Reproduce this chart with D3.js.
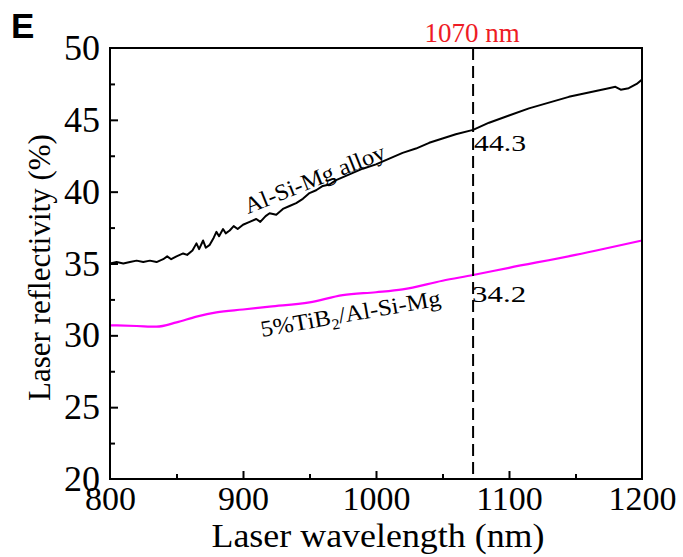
<!DOCTYPE html>
<html><head><meta charset="utf-8">
<script src="https://cdn.jsdelivr.net/npm/d3@7"></script>
<style>body{margin:0;background:#fff}svg{display:block}</style>
</head><body>
<script>
// Data
const alloyWavelength = [800,805,810,815,820,825,830,835,840,843,846,850,855,858,862,865,867,870,872,875,878,880,882,885,887,890,893,896,900,905,910,913,917,920,925,930,935,940,945,950,955,960,965,970,980,990,1000,1010,1020,1030,1040,1050,1060,1073,1085,1100,1115,1130,1145,1160,1175,1180,1184,1190,1196,1200];
const alloyReflectivity = [35.0,35.1,35.0,35.1,35.2,35.1,35.2,35.1,35.3,35.5,35.3,35.5,35.7,35.6,35.9,36.4,36.0,36.6,36.1,36.3,36.8,37.2,36.9,37.4,37.1,37.3,37.6,37.4,37.7,37.9,38.1,37.9,38.3,38.5,38.4,38.8,39.0,39.2,39.5,39.9,40.1,40.4,40.5,40.8,41.2,41.6,41.9,42.3,42.7,43.0,43.4,43.7,44.0,44.3,44.8,45.3,45.8,46.2,46.6,46.9,47.2,47.3,47.1,47.2,47.5,47.8];
const compWavelength = [800,820,835,850,865,880,900,920,950,975,1000,1020,1050,1073,1100,1150,1200];
const compReflectivity = [30.7,30.65,30.6,30.9,31.3,31.6,31.8,32.0,32.3,32.8,33.0,33.2,33.8,34.2,34.7,35.6,36.6];
const xTicks = [800,900,1000,1100,1200];
const xMinor = [850,950,1050,1150];
const yTicks = [20,25,30,35,40,45,50];
const yMinor = [22.5,27.5,32.5,37.5,42.5,47.5];
const markerWavelength = 1073;
const markerLabel = "1070 nm";
const alloyAt = "44.3", compAt = "34.2";

const W = 683, H = 557;
const m = {left:110, right:683-642, top:48, bottom:557-479};
const svg = d3.select("body").append("svg").attr("width",W).attr("height",H);
const x = d3.scaleLinear().domain([800,1200]).range([m.left, W-m.right]);
const y = d3.scaleLinear().domain([20,50]).range([H-m.bottom, m.top]);
const serif = "'Liberation Serif','Times New Roman',serif";

// curves
svg.append("path").datum(d3.zip(compWavelength, compReflectivity))
  .attr("d", d3.line().x(d=>x(d[0])).y(d=>y(d[1])).curve(d3.curveMonotoneX))
  .attr("fill","none").attr("stroke","#ff00ff").attr("stroke-width",2.2);
svg.append("path").datum(d3.zip(alloyWavelength, alloyReflectivity))
  .attr("d", d3.line().x(d=>x(d[0])).y(d=>y(d[1])))
  .attr("fill","none").attr("stroke","#000").attr("stroke-width",2).attr("stroke-linejoin","round");

// dashed marker
svg.append("line").attr("x1",x(markerWavelength)).attr("x2",x(markerWavelength))
  .attr("y1",y(50)).attr("y2",y(20)).attr("stroke","#000").attr("stroke-width",2).attr("stroke-dasharray","12,6");

// frame
svg.append("rect").attr("x",x(800)).attr("y",y(50)).attr("width",x(1200)-x(800)).attr("height",y(20)-y(50))
  .attr("fill","none").attr("stroke","#000").attr("stroke-width",2);

// axes
const xAxis = svg.append("g").attr("transform",`translate(0,${y(20)})`)
  .call(d3.axisBottom(x).tickValues(xTicks).tickSizeInner(-8).tickSizeOuter(0).tickPadding(10).tickFormat(d3.format("d")));
xAxis.selectAll(".tick").filter(d=>d===800||d===1200).select("line").remove();
svg.append("g").attr("transform",`translate(0,${y(20)})`)
  .call(d3.axisBottom(x).tickValues(xMinor).tickSizeInner(-5).tickSizeOuter(0).tickFormat(""));
const yAxis = svg.append("g").attr("transform",`translate(${x(800)},0)`)
  .call(d3.axisLeft(y).tickValues(yTicks).tickSizeInner(-8).tickSizeOuter(0).tickPadding(10).tickFormat(d3.format("d")));
yAxis.selectAll(".tick").filter(d=>d===20||d===50).select("line").remove();
svg.append("g").attr("transform",`translate(${x(800)},0)`)
  .call(d3.axisLeft(y).tickValues(yMinor).tickSizeInner(-5).tickSizeOuter(0).tickFormat(""));
svg.selectAll(".domain").remove();
svg.selectAll(".tick line").attr("stroke","#000").attr("stroke-width",2);
xAxis.selectAll("text").attr("font-family",serif).attr("font-size",34).attr("fill","#000").attr("y",7).attr("dy","0.71em");
yAxis.selectAll("text").attr("font-family",serif).attr("font-size",36).attr("fill","#000");

// titles
svg.append("text").attr("x",(x(800)+x(1200))/2+2).attr("y",547).attr("text-anchor","middle")
  .attr("font-family",serif).attr("font-size",33).attr("textLength",333).attr("lengthAdjust","spacingAndGlyphs")
  .text("Laser wavelength (nm)");
svg.append("text").attr("transform",`translate(50,${(y(20)+y(50))/2+4}) rotate(-90)`).attr("text-anchor","middle")
  .attr("font-family",serif).attr("font-size",31).text("Laser reflectivity (%)");

// panel letter
svg.append("text").attr("x",11).attr("y",38).attr("font-family","'Liberation Sans',Arial,sans-serif")
  .attr("font-weight","bold").attr("font-size",35).text("E");

// marker label
svg.append("text").attr("x",x(markerWavelength)-1).attr("y",42).attr("text-anchor","middle")
  .attr("font-family",serif).attr("font-size",27).attr("fill","#ee1c25").text(markerLabel);

// value labels
svg.append("text").attr("x",x(markerWavelength)+1).attr("y",y(44.3)+21)
  .attr("font-family",serif).attr("font-size",24).attr("textLength",52).attr("lengthAdjust","spacingAndGlyphs").text(alloyAt);
svg.append("text").attr("x",x(markerWavelength)-1).attr("y",y(34.2)+27)
  .attr("font-family",serif).attr("font-size",24).attr("textLength",54).attr("lengthAdjust","spacingAndGlyphs").text(compAt);

// curve labels
svg.append("text").attr("transform",`translate(248,214) rotate(-22)`)
  .attr("font-family",serif).attr("font-size",23).attr("textLength",150).attr("lengthAdjust","spacingAndGlyphs").text("Al-Si-Mg alloy");
const t2 = svg.append("text").attr("transform",`translate(262,337) rotate(-10) scale(1.08,1)`)
  .attr("font-family",serif).attr("font-size",23);
t2.append("tspan").text("5%TiB");
t2.append("tspan").attr("font-size",15).attr("dy",5).text("2");
t2.append("tspan").attr("dy",-5).text("/Al-Si-Mg");
</script>
</body></html>
